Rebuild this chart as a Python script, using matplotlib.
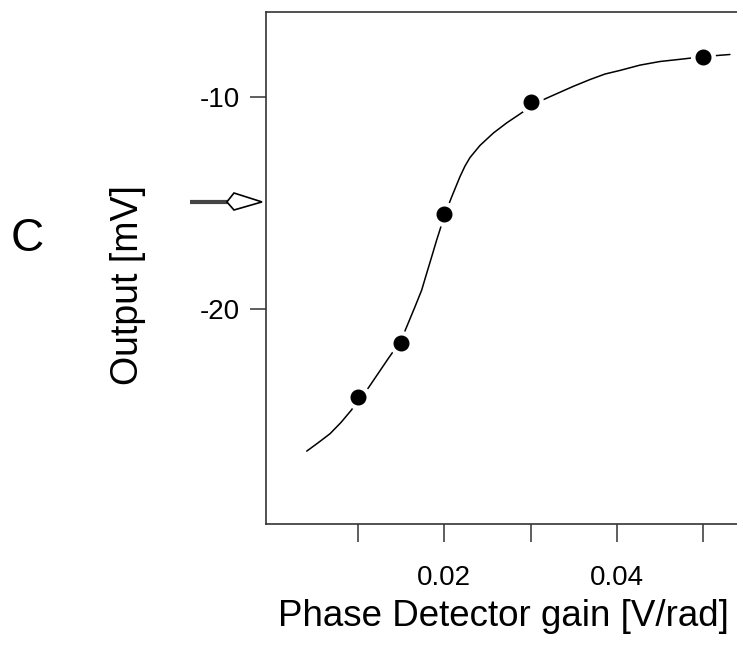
import matplotlib
matplotlib.use("Agg")
import matplotlib.pyplot as plt
from matplotlib.patches import Polygon
import matplotlib.transforms as mtransforms

plt.rcParams['font.family'] = ['Liberation Sans', 'DejaVu Sans']

# measured points
gain = [0.010, 0.015, 0.020, 0.030, 0.050]
output = [-24.1, -21.57, -15.5, -10.25, -8.1]

# fitted curve
curve_x = [0.00406, 0.00537, 0.00676, 0.00803, 0.00927, 0.01000, 0.01119, 0.01351,
           0.01500, 0.01564, 0.01660, 0.01738, 0.01796, 0.01854, 0.01912, 0.01942,
           0.02000, 0.02086, 0.02182, 0.02240, 0.02298, 0.02414, 0.02568, 0.02723,
           0.02877, 0.03000, 0.03129, 0.03306, 0.03495, 0.03688, 0.03862, 0.04036,
           0.04268, 0.04500, 0.04770, 0.05000, 0.05310]
curve_y = [-26.67, -26.28, -25.85, -25.32, -24.72, -24.25, -23.70, -22.31,
           -21.45, -20.82, -19.88, -19.09, -18.30, -17.52, -16.73, -16.35,
           -15.60, -14.70, -13.75, -13.25, -12.85, -12.28, -11.70, -11.22,
           -10.80, -10.45, -10.16, -9.84, -9.50, -9.18, -8.92, -8.75,
           -8.50, -8.33, -8.21, -8.10, -8.00]

xticks = [0.01, 0.02, 0.03, 0.04, 0.05]
xticklabels = ['', '0.02', '', '0.04', '']
yticks = [-20, -10]
yticklabels = ['-20', '-10']
arrow_y = -14.94

fig = plt.figure(figsize=(7.37, 6.51), dpi=100)
ax = fig.add_axes([266/737, 1-524/651, 1-266/737, (524-12)/651])

ax.plot(curve_x, curve_y, color='black', lw=1.1, zorder=2,
        solid_joinstyle='round', solid_capstyle='round')
ax.plot(gain, output, 'o', ls='none', ms=17, mfc='white', mec='white', zorder=3)
ax.plot(gain, output, 'o', ls='none', ms=10.5, mfc='black', mec='black', zorder=4)

ax.set_xlim(-0.00066, 0.05392)
ax.set_ylim(-30.1, -6.0)
ax.set_xticks(xticks)
ax.set_xticklabels(xticklabels)
ax.set_yticks(yticks)
ax.set_yticklabels(yticklabels)

for s in ['left', 'top', 'bottom']:
    ax.spines[s].set_linewidth(1.2)
    ax.spines[s].set_color('#333333')
ax.spines['right'].set_visible(False)

ax.tick_params(axis='x', direction='out', length=13, width=1.1, pad=16.5,
               labelsize=20, color='#333333')
ax.tick_params(axis='y', direction='out', length=11.5, width=1.1, pad=7,
               labelsize=20, color='#333333')

fig.text(503.5/737, 1-626/651, 'Phase Detector gain [V/rad]', fontsize=26.5,
         ha='center', va='baseline')
fig.text(128/737, 1-285.5/651, 'Output [mV]', fontsize=27, rotation=90,
         ha='center', va='center')
fig.text(27/737, 1-239/651, 'C', fontsize=33, ha='center', va='center')

# arrow marking the half-way output level
trans = mtransforms.blended_transform_factory(ax.transAxes, ax.transData)
ax.plot([-0.161, -0.080], [arrow_y, arrow_y], color='#444444', lw=3.0,
        solid_capstyle='butt', transform=trans, clip_on=False, zorder=5)
head = Polygon([(-0.083, arrow_y), (-0.068, arrow_y + 0.42), (-0.0085, arrow_y),
                (-0.068, arrow_y - 0.38)], closed=True, facecolor='white',
               edgecolor='black', lw=1.2, transform=trans, clip_on=False, zorder=6)
ax.add_patch(head)

fig.savefig('out.png', dpi=100)
